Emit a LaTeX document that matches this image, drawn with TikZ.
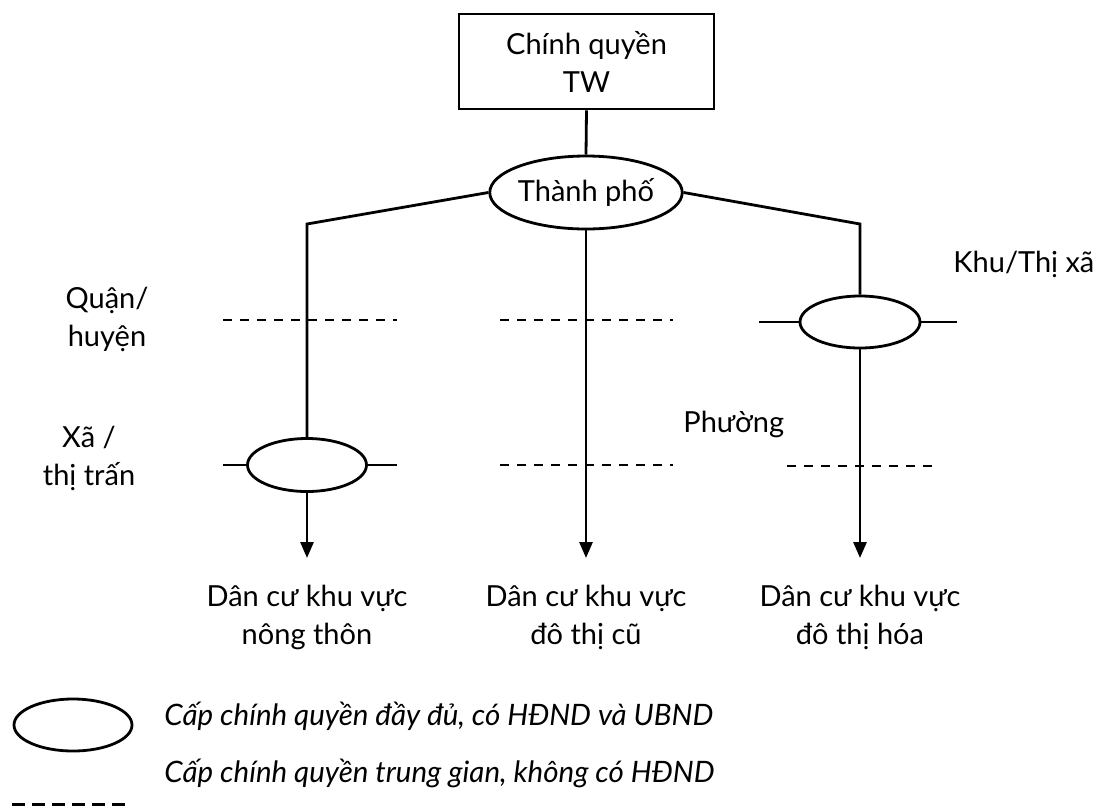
\documentclass[tikz,border=0pt]{standalone}
\usepackage{fontspec}
\setmainfont{Lato}
\usetikzlibrary{shapes.geometric,arrows.meta}
\begin{document}
\begin{tikzpicture}[x=1pt,y=-1pt,
  line width=2.8pt,
  lbl/.style={font=\fontsize{29}{38}\selectfont, align=center, inner sep=0pt},
  leg/.style={font=\fontsize{29.5}{34}\selectfont\itshape, inner sep=0pt, anchor=base west},
  ell/.style={draw, ellipse, inner sep=0pt},
  dsh/.style={dash pattern=on 9pt off 8pt},
  arr/.style={-{Triangle[length=16pt,width=13pt]}}]
\useasboundingbox (0,0) rectangle (1094,807);

% main nodes
\node[draw, rectangle, minimum width=255pt, minimum height=95pt, lbl] (tw) at (586.5,61.5) {Chính quyền\\TW};
\node[ell, lbl, minimum width=188pt, minimum height=73pt] (city) at (586,192.5) {Thành phố};
\node[ell, minimum width=119pt, minimum height=53pt] (e1) at (307,465) {};
\node[ell, minimum width=120pt, minimum height=52pt] (e3) at (860,322) {};

% corner and tip coordinates
\coordinate (cL) at (307,224);
\coordinate (cR) at (860,224);
\coordinate (tL) at (307,558);
\coordinate (tM) at (586,558);
\coordinate (tR) at (860,558);

% connectors
\draw (tw.south) -- (city.north);
\draw (city.west) -- (cL) -- (e1.north);
\draw (city.east) -- (cR) -- (e3.north);
\draw[arr] (e1.south) -- (tL);
\draw[arr] (city.south) -- (tM);
\draw[arr] (e3.south) -- (tR);

% stubs on ellipses
\coordinate (s1a) at (223,465);
\coordinate (s1b) at (397,465);
\coordinate (s3a) at (759,322);
\coordinate (s3b) at (957,322);
\draw (s1a) -- (e1.west);
\draw (e1.east) -- (s1b);
\draw (s3a) -- (e3.west);
\draw (e3.east) -- (s3b);

% dashed levels
\coordinate (d1a) at (223,320);
\coordinate (d1b) at (397,320);
\coordinate (d2a) at (500,320);
\coordinate (d2b) at (673,320);
\coordinate (d3a) at (500,465);
\coordinate (d3b) at (673,465);
\coordinate (d4a) at (787,466);
\coordinate (d4b) at (934,466);
\draw[dsh] (d1a) -- (d1b);
\draw[dsh] (d2a) -- (d2b);
\draw[dsh] (d3a) -- (d3b);
\draw[dsh] (d4a) -- (d4b);

% result texts
\node[lbl] (r1) at (307,617) {Dân cư khu vực\\nông thôn};
\node[lbl] (r2) at (586,617) {Dân cư khu vực\\đô thị cũ};
\node[lbl] (r3) at (860,617) {Dân cư khu vực\\đô thị hóa};

% level labels
\node[lbl] (quan) at (107,319) {Quận/\\huyện};
\node[lbl] (xa) at (89,458) {Xã /\\thị trấn};
\node[lbl, anchor=west] (khu) at (952,264) {Khu/Thị xã};
\node[lbl, anchor=west] (phuong) at (682,424) {Phường};

% legend
\node[ell, minimum width=118pt, minimum height=52pt] (legE) at (73,725) {};
\node[leg] (legT1) at (163,725) {Cấp chính quyền đầy đủ, có HĐND và UBND};
\coordinate (legDa) at (12,804);
\coordinate (legDb) at (127,804);
\draw[line width=3pt, dash pattern=on 13pt off 7pt] (legDa) -- (legDb);
\node[leg] (legT2) at (163,782) {Cấp chính quyền trung gian, không có HĐND};
\end{tikzpicture}
\end{document}
